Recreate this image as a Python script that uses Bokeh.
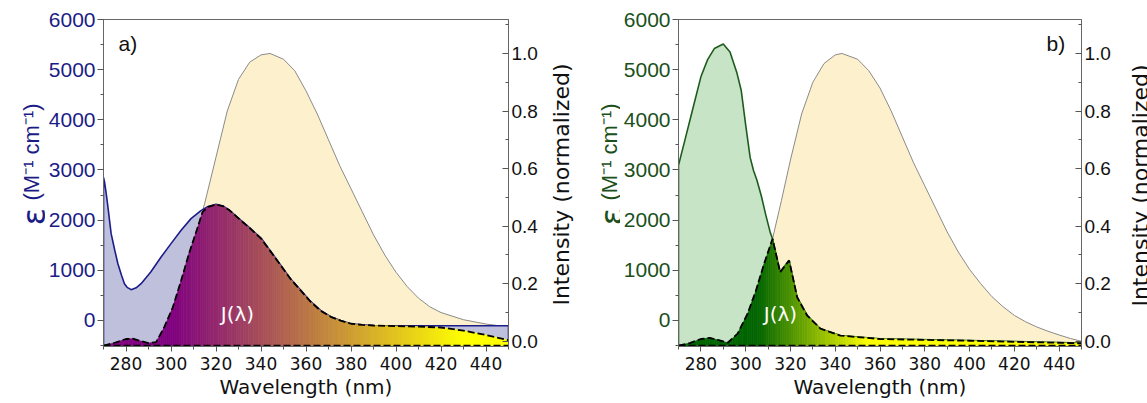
import math
from bokeh.plotting import figure
from bokeh.models import Range1d, LinearAxis, SingleIntervalTicker, NumeralTickFormatter, Label
from bokeh.layouts import row
from bokeh.embed import file_html
from bokeh.resources import INLINE

# ---------------- data: panel a ----------------
a_eps_nm = [270, 270.5, 271.2, 272, 273.4, 275, 276.4, 278, 279.3, 280.5, 282.3, 284.5, 286.7, 291, 295.6,
            300, 304.5, 308.9, 313.3, 316.5, 320, 323, 326, 331, 335.5, 340, 344, 348.8, 353, 357.7, 362,
            366.5, 371, 375.4, 380, 385, 390, 400, 410, 420, 430, 440, 450]
a_eps = [2850, 2750, 2535, 2250, 1730, 1400, 1131, 900, 732, 660, 613, 650, 732, 964, 1264,
         1531, 1797, 2030, 2190, 2270, 2318, 2283, 2197, 2000, 1824, 1643, 1394, 1102, 837, 601, 378,
         200, 74, 0, -66, -86, -100, -105, -105, -105, -105, -105, -105]

a_em_nm = [270, 280, 290, 297, 300.8, 304.5, 308, 312, 315, 320, 325, 330, 335, 340, 344, 350, 355,
           360, 365, 370, 375, 380, 385, 390, 395, 400, 405, 410, 415, 420, 430, 440, 450]
a_em = [-0.015, 0.008, -0.005, 0.049, 0.118, 0.211, 0.305, 0.40, 0.48, 0.64, 0.80, 0.91, 0.97, 0.995,
        1.0, 0.98, 0.94, 0.87, 0.79, 0.70, 0.61, 0.53, 0.45, 0.37, 0.30, 0.24, 0.19, 0.15, 0.12, 0.10,
        0.075, 0.06, 0.05]

a_j_nm = [270, 275, 280, 283, 286, 290, 293.4, 297, 300.8, 304.5, 308, 311.9, 314, 316.5, 320, 323, 326,
          331, 335.5, 340, 344, 348.8, 353, 357.7, 362, 366.5, 371, 375.4, 380, 385, 390, 400, 410, 420,
          430, 440, 450]
a_j = [-0.015, -0.005, 0.008, 0.009, 0.002, -0.006, -0.003, 0.049, 0.118, 0.211, 0.305, 0.397, 0.449,
       0.467, 0.475, 0.47, 0.455, 0.42, 0.39, 0.357, 0.315, 0.263, 0.218, 0.176, 0.138, 0.106, 0.085,
       0.072, 0.061, 0.057, 0.055, 0.053, 0.051, 0.048, 0.037, 0.022, 0.004]

# ---------------- data: panel b ----------------
b_eps_nm = [270, 273, 276, 280, 283, 286, 290, 293, 296, 298, 300, 302, 303.5, 305, 307, 309, 311, 312,
            315.4, 319.4, 323, 327.5, 333.4, 342.3, 360, 400, 450]
b_eps = [3094, 3620, 4150, 4857, 5200, 5420, 5510, 5350, 4950, 4590, 3900, 3250, 2990, 2800, 2480, 2100,
         1750, 1630, 964, 1198, 465, 100, -166, -300, -365, -400, -453]

b_em_nm = [270, 280, 284, 288, 292, 296.4, 300.8, 304.5, 308.2, 312, 316, 320, 325, 330, 335, 340, 343,
           350, 355, 360, 365, 370, 375, 380, 385, 390, 395, 400, 405, 410, 415, 420, 425, 430, 435, 440,
           445, 450]
b_em = [-0.015, 0.008, 0.012, 0.004, -0.005, 0.027, 0.095, 0.174, 0.269, 0.356, 0.49, 0.63, 0.79, 0.90,
        0.965, 0.995, 1.0, 0.98, 0.94, 0.88, 0.80, 0.71, 0.62, 0.54, 0.46, 0.38, 0.31, 0.25, 0.20, 0.155,
        0.12, 0.09, 0.068, 0.05, 0.035, 0.022, 0.01, 0.0]

b_j_nm = [270, 275, 280, 284, 288, 292, 296.4, 300.8, 304.5, 308.2, 312, 315.4, 319.4, 323, 327.5, 333.4,
          342.3, 360, 400, 450]
b_j = [-0.015, -0.006, 0.008, 0.012, 0.004, -0.005, 0.027, 0.095, 0.174, 0.269, 0.356, 0.24, 0.281,
       0.153, 0.089, 0.044, 0.02, 0.008, 0.002, -0.007]

j_baseline = -0.015
x_ticks_interval = 20
eps_range = (-520, 6000)
int_range = (-0.018, 1.118)
wl_range = (270, 450)

ARIAL = "Liberation Sans"
DEJAVU = "DejaVu Sans"
H = 402
TOP = 19
BOTTOM = 56
FRAME_BOTTOM = H - BOTTOM   # page y of the plot frames' lower edge
NAVY = "#1c1c86"
DKGREEN = "#1b4f1b"


def color_at(x, stops):
    if x <= stops[0][0]:
        c = stops[0][1]
    elif x >= stops[-1][0]:
        c = stops[-1][1]
    else:
        for (x0, c0), (x1, c1) in zip(stops[:-1], stops[1:]):
            if x0 <= x <= x1:
                t = (x - x0) / (x1 - x0)
                c = tuple(c0[k] + (c1[k] - c0[k]) * t for k in range(3))
                break
    return "#%02x%02x%02x" % tuple(int(round(v)) for v in c)


def gradient_strips(nm, vals, base, stops):
    # split each straight segment of the read curve into thin strips so the fill can carry a gradient
    xs, ys, cols = [], [], []
    for i in range(len(nm) - 1):
        x0, x1 = nm[i], nm[i + 1]
        y0, y1 = vals[i], vals[i + 1]
        n = max(1, int(math.ceil((x1 - x0) / 1.2)))
        for k in range(n):
            t0, t1 = k / n, (k + 1) / n
            xa, xb = x0 + (x1 - x0) * t0, x0 + (x1 - x0) * t1
            ya, yb = y0 + (y1 - y0) * t0, y0 + (y1 - y0) * t1
            xs.append([xa, xb, xb, xa])
            ys.append([base, base, yb, ya])
            cols.append(color_at(0.5 * (xa + xb), stops))
    return xs, ys, cols


def text_strip(width):
    # an axis-free strip that only carries rotated axis titles
    s = figure(width=width, height=H, x_range=Range1d(0, 1), y_range=Range1d(0, 1),
               output_backend="svg", toolbar_location=None,
               min_border_left=0, min_border_right=0, min_border_top=TOP, min_border_bottom=BOTTOM,
               x_axis_location=None, y_axis_location=None)
    s.grid.visible = False
    s.outline_line_color = None
    s.background_fill_color = "white"
    s.border_fill_color = "white"
    return s


def vlabel(s, x, page_y, text, size, color, font, align="center"):
    s.add_layout(Label(x=x, y=FRAME_BOTTOM - page_y, x_units="screen", y_units="screen", text=text,
                       angle=math.pi / 2, text_align=align, text_baseline="alphabetic",
                       text_font=font, text_font_size=size, text_color=color))


def eps_title(s, x, color):
    vlabel(s, x, 216, "ε", "32px", color, DEJAVU)
    vlabel(s, x - 2, 200, "(M⁻¹ cm⁻¹)", "22px", color, ARIAL, align="left")


def make_panel(eps_nm, eps, em_nm, em, j_nm, j, tag, eps_line, eps_fill, eps_text, stops,
               width, bl, br, jx, tagx):
    p = figure(width=width, height=H,
               x_range=Range1d(*wl_range), y_range=Range1d(*eps_range),
               output_backend="svg", toolbar_location=None,
               min_border_left=bl, min_border_right=br, min_border_top=TOP, min_border_bottom=BOTTOM)
    p.extra_y_ranges = {"int": Range1d(*int_range)}
    p.grid.visible = False
    p.outline_line_color = "#666666"
    p.outline_line_width = 1
    p.background_fill_color = "white"
    p.border_fill_color = "white"

    # emission (beige)
    p.patch(x=list(em_nm) + [wl_range[1], wl_range[0]], y=list(em) + [int_range[0], int_range[0]],
            y_range_name="int", fill_color="#fdf0cc", line_color="#8a8a8a", line_width=1)
    # absorption
    p.patch(x=list(eps_nm) + [wl_range[1], wl_range[0]], y=list(eps) + [eps_range[0], eps_range[0]],
            fill_color=eps_fill, line_color=eps_line, line_width=1.6)
    # J overlap with gradient
    xs, ys, cols = gradient_strips(j_nm, j, j_baseline, stops)
    p.patches(xs=xs, ys=ys, fill_color=cols, line_color=cols, line_width=0.6, y_range_name="int")
    p.line(x=j_nm, y=j, y_range_name="int", line_color="black", line_width=1.8, line_dash="7 3")
    p.line(x=[j_nm[0], j_nm[-1]], y=[j_baseline, j_baseline], y_range_name="int",
           line_color="black", line_width=1.8, line_dash="7 3")

    ax = p.xaxis[0]
    ax.ticker = SingleIntervalTicker(interval=x_ticks_interval, num_minor_ticks=2)
    ax.axis_line_color = "#666666"
    ax.major_tick_line_color = "#555555"
    ax.minor_tick_line_color = "#555555"
    ax.major_tick_out = 5
    ax.major_tick_in = 0
    ax.minor_tick_out = 3
    ax.minor_tick_in = 0
    ax.major_label_text_font = DEJAVU
    ax.major_label_text_font_size = "17px"
    ax.major_label_text_color = "#111111"
    ax.major_label_standoff = 5
    ax.axis_label = "Wavelength (nm)"
    ax.axis_label_text_font = DEJAVU
    ax.axis_label_text_font_size = "20px"
    ax.axis_label_text_font_style = "normal"
    ax.axis_label_text_color = "#111111"
    ax.axis_label_standoff = 2

    ay = p.yaxis[0]
    ay.ticker = SingleIntervalTicker(interval=1000, num_minor_ticks=2)
    ay.axis_line_color = "#666666"
    ay.major_tick_line_color = "#555555"
    ay.minor_tick_line_color = "#555555"
    ay.major_tick_out = 6
    ay.major_tick_in = 0
    ay.minor_tick_out = 3
    ay.minor_tick_in = 0
    ay.major_label_text_font = ARIAL
    ay.major_label_text_font_size = "21px"
    ay.major_label_text_color = eps_text
    ay.major_label_standoff = 2
    ay.axis_label = None

    ar = LinearAxis(y_range_name="int")
    ar.ticker = SingleIntervalTicker(interval=0.2, num_minor_ticks=2)
    ar.formatter = NumeralTickFormatter(format="0.0")
    ar.axis_line_color = "#666666"
    ar.major_tick_line_color = "#555555"
    ar.minor_tick_line_color = "#555555"
    ar.major_tick_out = 0
    ar.major_tick_in = 6
    ar.minor_tick_out = 0
    ar.minor_tick_in = 3
    ar.major_label_text_font = ARIAL
    ar.major_label_text_font_size = "19px"
    ar.major_label_text_color = "#111111"
    ar.major_label_standoff = 3
    ar.axis_label = None
    p.add_layout(ar, "right")

    p.add_layout(Label(x=tagx, y=303, x_units="screen", y_units="screen", text=tag,
                       text_align="left", text_baseline="alphabetic", text_font=ARIAL,
                       text_font_size="21px", text_color="#111111"))
    p.add_layout(Label(x=jx, y=33, x_units="screen", y_units="screen", text="J(λ)",
                       text_align="center", text_baseline="middle", text_font=DEJAVU,
                       text_font_size="20px", text_color="white"))
    return p


# page columns: [0-45 titles a][45-540 panel a][540-620 titles][620-1119 panel b][1119-1147 title]
lab_a = text_strip(45)
eps_title(lab_a, 33, NAVY)

pa = make_panel(a_eps_nm, a_eps, a_em_nm, a_em, a_j_nm, a_j, "a)",
                "#1c1c8a", "#bfc0dc", NAVY,
                [(300, (128, 0, 128)), (430, (255, 255, 0))],
                width=495, bl=57, br=32, jx=134, tagx=15)

lab_mid = text_strip(80)
vlabel(lab_mid, 21, 184, "Intensity (normalized)", "22px", "#111111", DEJAVU)
eps_title(lab_mid, 71, DKGREEN)

pb = make_panel(b_eps_nm, b_eps, b_em_nm, b_em, b_j_nm, b_j, "b)",
                "#1e5c1e", "#c8e4c6", DKGREEN,
                [(305, (0, 100, 0)), (355, (255, 255, 0))],
                width=499, bl=57, br=38, jx=102, tagx=368)

lab_r = text_strip(28)
vlabel(lab_r, 21, 185, "Intensity (normalized)", "22px", "#111111", DEJAVU)

layout = row(lab_a, pa, lab_mid, pb, lab_r)
open("out.html", "w").write(file_html(layout, INLINE))
